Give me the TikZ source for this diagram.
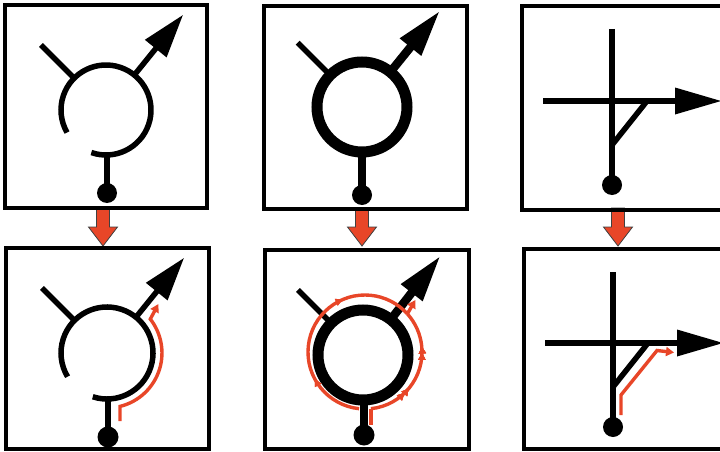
\documentclass[tikz,border=0pt]{standalone}
\usetikzlibrary{arrows.meta,calc,decorations.markings}
\definecolor{flowred}{RGB}{232,70,40}
\begin{document}
\begin{tikzpicture}[x=1pt,y=1pt,
  panel/.style={draw=black,line width=4.8pt},
  sym/.style={draw=black,line width=5.5pt},
  symthick/.style={draw=black,line width=11pt},
  symmid/.style={draw=black,line width=8.5pt},
  flow/.style={draw=flowred,line width=3.4pt},
  flowtip/.style={-{Triangle[length=8pt,width=9pt]}},
  bigarrow/.style={fill=flowred,draw=black!75,line width=0.8pt},
  downblock/.pic={\filldraw[bigarrow] (-6.5,0) -- (-6.5,-19) -- (-14.5,-19) -- (0,-38) -- (14.5,-19) -- (6.5,-19) -- (6.5,0) -- cycle;},
  midmark/.style={postaction={decorate},decoration={markings,
     mark=at position #1 with {\arrow{Triangle[length=7pt,width=7pt]}}}}
]
\useasboundingbox (0,0) rectangle (720,451);
\clip (0,0) rectangle (720,451);
\fill[white] (0,0) rectangle (720,451);

% ---------- circle centres / crosses ----------
\coordinate (c1) at (106,341);
\coordinate (c2) at (362,344);
\coordinate (c4) at (107,98);
\coordinate (c5) at (363,96);
\coordinate (x3) at (612,350);
\coordinate (x6) at (613,108);

% ---------- red block arrows between rows ----------
\pic at (103,243) {downblock};
\pic at (362,243) {downblock};
\pic at (618,243) {downblock};

% ---------- panel frames ----------
\draw[panel] (5,243) rectangle (207,446);
\draw[panel] (264,242) rectangle (467,445);
\draw[panel] (522,241) rectangle (740,445);
\draw[panel] (6,2) rectangle (209,203);
\draw[panel] (265,2) rectangle (469,201);
\draw[panel] (524,2) rectangle (740,202);

% ---------- panel 1 ----------
\draw[sym] ($(c1)+(-109:45)$) arc[start angle=-109, end angle=210, radius=45];
\draw[sym] ($(c1)+(135:45)$) -- ($(c1)+(135:92)$);
\draw[sym] ($(c1)+(51:45)$) -- ($(c1)+(51:82)$);
\fill ($(c1)+(51:122)$) -- ($(c1)+(51:79)+(141:14)$) -- ($(c1)+(51:79)+(-39:14)$) -- cycle;
\draw[sym] ($(c1)+(1,-45)$) -- ($(c1)+(1,-83)$);
\fill ($(c1)+(1,-83)$) circle[radius=10];

% ---------- panel 2 ----------
\draw[symthick] (c2) circle[radius=45];
\draw[sym] ($(c2)+(135:47)$) -- ($(c2)+(135:91)$);
\draw[symmid] ($(c2)+(51:47)$) -- ($(c2)+(51:80)$);
\fill ($(c2)+(51:122)$) -- ($(c2)+(51:77)+(141:14)$) -- ($(c2)+(51:77)+(-39:14)$) -- cycle;
\draw[symmid] ($(c2)+(0,-48)$) -- ($(c2)+(0,-88)$);
\fill ($(c2)+(0,-88)$) circle[radius=10];

% ---------- panel 3 ----------
\draw[sym] ($(x3)+(0,72)$) -- ($(x3)+(0,-84)$);
\draw[sym] ($(x3)+(-69,0)$) -- ($(x3)+(66,0)$);
\fill ($(x3)+(63,13.5)$) -- ($(x3)+(109,0)$) -- ($(x3)+(63,-13.5)$) -- cycle;
\draw[sym] ($(x3)+(35,0)$) -- ($(x3)+(0,-44)$);
\fill ($(x3)+(0,-84)$) circle[radius=10];

% ---------- panel 4 ----------
\draw[sym] ($(c4)+(-108:46)$) arc[start angle=-108, end angle=211, radius=46];
\draw[sym] ($(c4)+(135:46)$) -- ($(c4)+(135:92)$);
\draw[sym] ($(c4)+(51:46)$) -- ($(c4)+(51:82)$);
\fill ($(c4)+(51:122)$) -- ($(c4)+(51:79)+(141:14)$) -- ($(c4)+(51:79)+(-39:14)$) -- cycle;
\draw[sym] ($(c4)+(1,-46)$) -- ($(c4)+(1,-84)$);
\fill ($(c4)+(1,-84)$) circle[radius=10.5];
\draw[flow,flowtip] (120,30) -- (120,44.6) arc[start angle=-76.3, end angle=38, radius=55] -- ++(62:17);

% ---------- panel 5 ----------
\draw[symthick] (c5) circle[radius=45];
\draw[sym] ($(c5)+(135:47)$) -- ($(c5)+(135:92)$);
\draw[symmid] ($(c5)+(52:47)$) -- ($(c5)+(52:82)$);
\fill ($(c5)+(52:124)$) -- ($(c5)+(52:79)+(142:14)$) -- ($(c5)+(52:79)+(-38:14)$) -- cycle;
\draw[symmid] ($(c5)+(1,-48)$) -- ($(c5)+(1,-80)$);
\fill ($(c5)+(1,-80)$) circle[radius=10.5];
\coordinate (r5) at (365,99);
\draw[flow] (371,26) -- (371,42.3);
\draw[flow,midmark=0.30,midmark=0.35,midmark=0.66,midmark=0.71]
  ($(r5)+(-84:57)$) arc[start angle=-84, end angle=42, radius=57];
\draw[flow,midmark=0.25,midmark=0.68]
  ($(r5)+(-96:57)$) arc[start angle=264, end angle=42, radius=57];
\draw[flow,flowtip] ($(r5)+(42:57)$) -- ++(60:16);

% ---------- panel 6 ----------
\draw[sym] ($(x6)+(0,71)$) -- ($(x6)+(0,-84)$);
\draw[sym] ($(x6)+(-68,0)$) -- ($(x6)+(66,0)$);
\fill ($(x6)+(64,13.5)$) -- ($(x6)+(110,0)$) -- ($(x6)+(64,-13.5)$) -- cycle;
\draw[sym] ($(x6)+(35,0)$) -- ($(x6)+(0,-44)$);
\fill ($(x6)+(0,-84)$) circle[radius=10];
\draw[flow,flowtip] (621,36) -- (621,56) -- (657,100.5) -- (674,98.5);
\end{tikzpicture}
\end{document}
